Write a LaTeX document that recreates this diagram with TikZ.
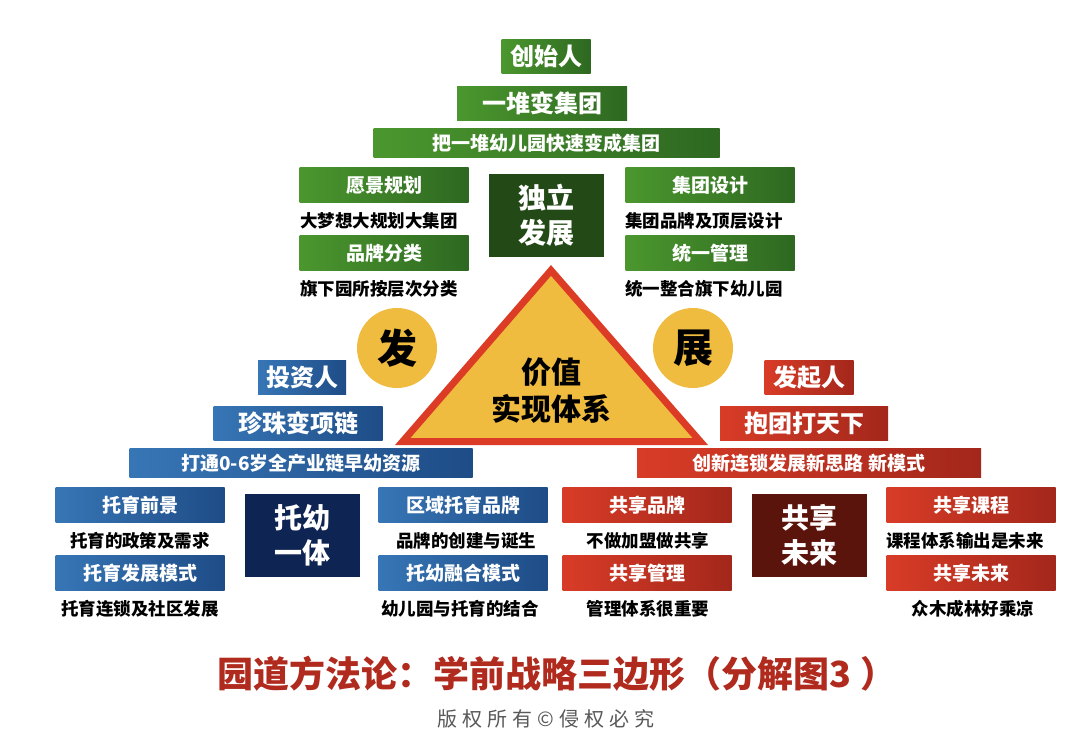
\documentclass[tikz,border=0pt]{standalone}
\usepackage{fontspec}
\newfontfamily\cjk{Noto Sans CJK SC}
\newfontfamily\cjkspaced[LetterSpace=25]{Noto Sans CJK SC}
\newcommand\setfs[2]{\fontsize{#1}{#2}\selectfont}
\definecolor{grnL}{HTML}{4B972E}
\definecolor{grnR}{HTML}{2E6821}
\definecolor{grnD}{HTML}{234A16}
\definecolor{bluL}{HTML}{3776B6}
\definecolor{bluR}{HTML}{1E4C86}
\definecolor{bluD}{HTML}{0E2452}
\definecolor{redL}{HTML}{D83C27}
\definecolor{redR}{HTML}{A3271B}
\definecolor{redD}{HTML}{5A140C}
\definecolor{triRed}{HTML}{DC3C25}
\definecolor{triYel}{HTML}{F0BC40}
\definecolor{titleRed}{HTML}{B02A1E}
\begin{document}
\begin{tikzpicture}[x=1pt,y=-1pt,
    box/.style={minimum width=169,minimum height=35,inner sep=0,text=white,font={\cjk\bfseries\setfs{19}{19}}},
    bigbox/.style={box,minimum height=34,font={\cjk\bfseries\setfs{24}{24}}},
    barbox/.style={box,minimum height=29},
    core/.style={minimum width=115,minimum height=83,inner sep=0,text=white,align=center,font={\cjk\bfseries\setfs{28}{35}}},
    note/.style={inner sep=0,font={\cjk\bfseries\setfs{17.5}{17.5}}},
    green/.style={left color=grnL,right color=grnR},
    blue/.style={left color=bluL,right color=bluR},
    red/.style={left color=redL,right color=redR},
    coin/.style={circle,fill=triYel,minimum size=80,inner sep=0,font={\cjk\bfseries\setfs{40}{40}}}]
    \useasboundingbox[fill=white](0,0)rectangle(1080,745);
    % top rows
    \foreach \n/\x/\y/\w/\c/\t in {
        creator/546/56/89/green/创始人,
        heap/542/103/170/green/一堆变集团,
        investor/302/377/88/blue/投资人,
        pearl/298/423/169/blue/珍珠变项链,
        starter/809/377/89/red/发起人,
        unite/804/423/168/red/抱团打天下}{
        \node[bigbox,\c,minimum width=\w](\n)at(\x,\y){\t};
    }
    \foreach \n/\x/\y/\w/\c/\t in {
        gbar/546.5/143/346/green/把一堆幼儿园快速变成集团,
        bbar/301/463/343/blue/打通0-6岁全产业链早幼资源,
        rbar/809/463/344/red/创新连锁发展新思路 新模式}{
        \node[barbox,\c,minimum width=\w](\n)at(\x,\y){\t};
    }
    % side boxes and their notes
    \foreach \n/\x/\y/\c/\t/\s/\sx in {
        vision/384/185/green/愿景规划/大梦想大规划大集团/379,
        brand/384/253/green/品牌分类/旗下园所按层次分类/379,
        design/710/185/green/集团设计/集团品牌及顶层设计/704,
        manage/710/253/green/统一管理/统一整合旗下幼儿园/704,
        outlook/140/505/blue/托育前景/托育的政策及需求/140,
        mode/140/573/blue/托育发展模式/托育连锁及社区发展/140,
        region/463/505/blue/区域托育品牌/品牌的创建与诞生/466,
        merge/463/573/blue/托幼融合模式/幼儿园与托育的结合/460,
        sbrand/647/505/red/共享品牌/不做加盟做共享/648,
        smanage/647/573/red/共享管理/管理体系很重要/648,
        scourse/971/505/red/共享课程/课程体系输出是未来/965,
        sfuture/971/573/red/共享未来/众木成林好乘凉/973}{
        \node[box,\c](\n)at(\x,\y){\t};
        \node[note](\n-note)at(\sx,\y+35.5){\s};
    }
    \node[core,fill=grnD](indep)at(546.5,215){独立\\发展};
    \node[core,fill=bluD](nursery)at(302,535.5){托幼\\一体};
    \node[core,fill=redD](share)at(809,535.5){共享\\未来};
    % triangle
    \draw[line width=7,draw=triRed,fill=triYel,line join=miter](551,270.4)--(700.3,441.5)--(402.7,441.5)--cycle;
    \node[align=center,inner sep=0,font={\cjk\bfseries\setfs{30}{37}}](value)at(551,391){价值\\实现体系};
    \node[coin](fa)at(397,348){发};
    \node[coin](zhan)at(693,348){展};
    % caption
    \node[text=titleRed,inner sep=0,font={\cjk\bfseries\setfs{36}{36}}](title)at(557,674){园道方法论：学前战略三边形（分解图3 ）};
    \node[text=black!65,inner sep=0,font={\cjkspaced\setfs{20}{20}}](rights)at(546,719){版权所有©侵权必究};
\end{tikzpicture}
\end{document}
